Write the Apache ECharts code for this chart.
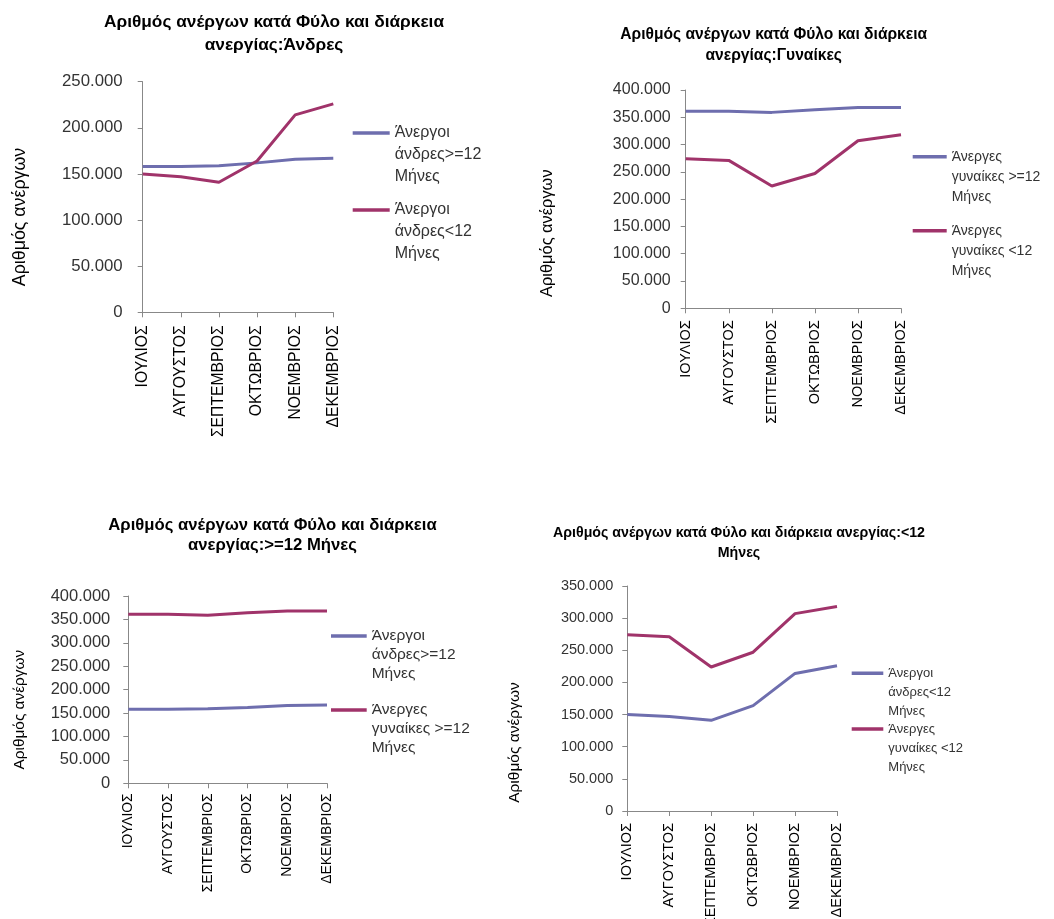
<!DOCTYPE html>
<html>
<head>
<meta charset="utf-8">
<script src="https://cdn.jsdelivr.net/npm/echarts@6/dist/echarts.min.js"></script>
<style>
html,body{margin:0;padding:0;background:#fff;}
#chart{width:1054px;height:919px;}
</style>
</head>
<body>
<div id="chart"></div>
<script>
// ---- Data ----
const categories = ['ΙΟΥΛΙΟΣ','ΑΥΓΟΥΣΤΟΣ','ΣΕΠΤΕΜΒΡΙΟΣ','ΟΚΤΩΒΡΙΟΣ','ΝΟΕΜΒΡΙΟΣ','ΔΕΚΕΜΒΡΙΟΣ'];
const menLong    = [158000, 158000, 159000, 162000, 166000, 167000];
const menShort   = [150000, 147000, 141000, 164000, 214000, 226000];
const womenLong  = [361000, 361000, 359000, 364000, 368000, 368000];
const womenShort = [274000, 271000, 224000, 247000, 307000, 318000];

const nameMenLong = 'Άνεργοι άνδρες>=12 Μήνες';
const nameMenShort = 'Άνεργοι άνδρες<12 Μήνες';
const nameWomenLong = 'Άνεργες γυναίκες >=12 Μήνες';
const nameWomenShort = 'Άνεργες γυναίκες <12 Μήνες';

const titles = [
  'Αριθμός ανέργων κατά Φύλο και διάρκεια\nανεργίας:Άνδρες',
  'Αριθμός ανέργων κατά Φύλο και διάρκεια\nανεργίας:Γυναίκες',
  'Αριθμός ανέργων κατά Φύλο και διάρκεια\nανεργίας:>=12 Μήνες',
  'Αριθμός ανέργων κατά Φύλο και διάρκεια ανεργίας:<12\nΜήνες'
];
const yAxisName = 'Αριθμός ανέργων';
const yMax = [250000, 400000, 400000, 350000];
const yStep = 50000;

// ---- Styles / layout ----
const BLUE = '#6E6EAE';
const RED = '#A0336A';
const FONT = 'Liberation Sans, Arial, sans-serif';

const panels = [
  {title: titles[0], tx: 274, tt: 10.5, ts: 17.3, tlh: 23,
   grid: {left: 142.7, top: 81.7, width: 190.6, height: 230.6}, max: yMax[0],
   yls: 16.8, ylm: 20, xls: 15.7, xlm: 13, ns: 17.8, ncx: 18, nshift: 20,
   series: [[nameMenLong, menLong, BLUE], [nameMenShort, menShort, RED]],
   lg: {x: 352.7, ys: [133, 210], w: 37, s: 16, lh: 21.7}},
  {title: titles[1], tx: 773.7, tt: 24.5, ts: 15.6, tlh: 21,
   grid: {left: 685.7, top: 90, width: 215.3, height: 218.3}, max: yMax[1],
   yls: 16, ylm: 15, xls: 14.5, xlm: 12, ns: 16.4, ncx: 546, nshift: 34,
   series: [[nameWomenLong, womenLong, BLUE], [nameWomenShort, womenShort, RED]],
   lg: {x: 912.7, ys: [156.7, 230.7], w: 34, s: 14, lh: 20}},
  {title: titles[2], tx: 272.5, tt: 515, ts: 16.7, tlh: 20,
   grid: {left: 128.3, top: 596, width: 198.7, height: 187.3}, max: yMax[2],
   yls: 16.5, ylm: 18, xls: 13.9, xlm: 10, ns: 15.4, ncx: 18, nshift: 20,
   series: [[nameMenLong, menLong, BLUE], [nameWomenLong, womenLong, RED]],
   lg: {x: 331, ys: [636, 710], w: 35.7, s: 15.5, lh: 19}},
  {title: titles[3], tx: 739, tt: 523.5, ts: 14.2, tlh: 19.5,
   grid: {left: 627.3, top: 586, width: 209.7, height: 225}, max: yMax[3],
   yls: 14.5, ylm: 14, xls: 14.5, xlm: 12, ns: 15.5, ncx: 513, nshift: 44,
   series: [[nameMenShort, menShort, BLUE], [nameWomenShort, womenShort, RED]],
   lg: {x: 851.7, ys: [673.3, 729], w: 31.6, s: 13, lh: 19}}
];

function fmtY(v) {
  if (v === 0) return '0';
  return (v / 1000) + '.000';
}
function wrapName(n) {
  // two leading blank lines so the first text line sits level with the legend line
  return '\n\n' + n.replace(/^(\S+) (.*) (\S+)$/, '$1\n$2\n$3');
}

const option = {
  backgroundColor: '#fff',
  animation: false,
  title: [], grid: [], xAxis: [], yAxis: [], series: [], legend: []
};

panels.forEach((p, i) => {
  option.title.push({
    text: p.title, left: p.tx, top: p.tt, textAlign: 'center', padding: 0,
    textStyle: {fontFamily: FONT, fontSize: p.ts, fontWeight: 'bold', color: '#000', lineHeight: p.tlh}
  });
  option.grid.push(Object.assign({containLabel: false, outerBoundsMode: 'none'}, p.grid));
  option.xAxis.push({
    type: 'category', gridIndex: i, data: categories, boundaryGap: false,
    axisLine: {lineStyle: {color: '#888', width: 1}},
    axisTick: {show: true, inside: false, length: 5, lineStyle: {color: '#888'}},
    axisLabel: {rotate: 90, margin: p.xlm, fontFamily: FONT, fontSize: p.xls, color: '#000', interval: 0},
    splitLine: {show: false}
  });
  option.yAxis.push({
    type: 'value', gridIndex: i, min: 0, max: p.max, interval: yStep,
    name: yAxisName, nameLocation: 'middle',
    nameGap: p.grid.left - p.ncx - p.ns * 0.6,
    nameTextStyle: {fontFamily: FONT, fontSize: p.ns, color: '#000', padding: [0, 2 * p.nshift, 0, 0]},
    axisLine: {show: true, lineStyle: {color: '#888', width: 1}},
    axisTick: {show: true, inside: false, length: 5, lineStyle: {color: '#888'}},
    axisLabel: {formatter: fmtY, margin: p.ylm, fontFamily: FONT, fontSize: p.yls, color: '#333'},
    splitLine: {show: false}
  });
  p.series.forEach(s => {
    option.series.push({
      type: 'line', name: s[0], data: s[1], xAxisIndex: i, yAxisIndex: i,
      showSymbol: false, symbol: 'none', color: s[2],
      lineStyle: {color: s[2], width: 3}
    });
  });
  p.series.forEach((s, k) => {
    option.legend.push({
      left: p.lg.x, top: p.lg.ys[k] - 2.5 * p.lg.lh, padding: 0,
      orient: 'vertical', icon: 'rect', itemWidth: p.lg.w, itemHeight: 3.5,
      selectedMode: false,
      data: [{name: s[0], itemStyle: {color: s[2]}}],
      formatter: wrapName,
      textStyle: {fontFamily: FONT, fontSize: p.lg.s, color: '#333', lineHeight: p.lg.lh}
    });
  });
});

const chart = echarts.init(document.getElementById('chart'), null, {renderer: 'canvas'});
chart.setOption(option);
</script>
</body>
</html>
